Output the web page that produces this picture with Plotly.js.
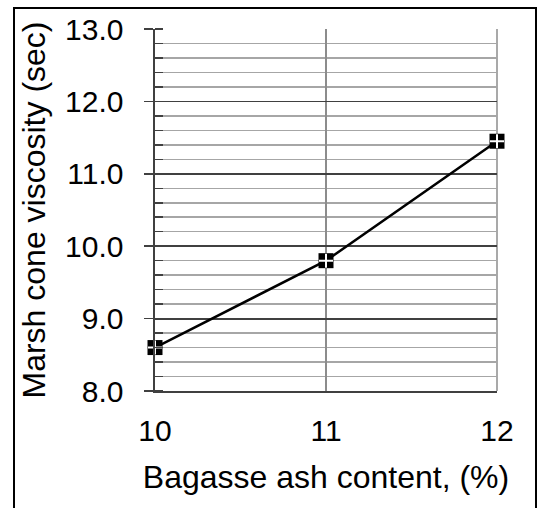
<!DOCTYPE html>
<html>
<head>
<meta charset="utf-8">
<script src="https://cdn.plot.ly/plotly-3.0.1.min.js"></script>
<style>html,body{margin:0;padding:0;background:#fff;}#chart{width:538px;height:508px;}</style>
</head>
<body>
<div id="chart"></div>
<script>
const ashContent = [10, 11, 12];
const viscosity = [8.6, 9.8, 11.45];
const xTicks = [10, 11, 12];
const yTicks = [8, 9, 10, 11, 12, 13];
const yTickText = ['8.0', '9.0', '10.0', '11.0', '12.0', '13.0'];
const xTitle = 'Bagasse ash content, (%)';
const yTitle = 'Marsh cone viscosity (sec)';

const L = 155, R = 497, T = 29, B = 391, W = 538, H = 508;
const px = v => (v - L) / (R - L);
const py = v => (B - v) / (B - T);

const traces = [
  {x: ashContent, y: viscosity, type: 'scatter', mode: 'lines+markers',
   line: {color: '#000', width: 2.5}, cliponaxis: false,
   marker: {symbol: 'square', size: 15, color: '#000'},
   hoverinfo: 'skip', showlegend: false},
  {x: ashContent, y: viscosity, type: 'scatter', mode: 'markers', cliponaxis: false,
   marker: {symbol: 'cross-thin-open', size: 10, color: '#fff', line: {color: '#fff', width: 2}},
   hoverinfo: 'skip', showlegend: false}
];

const layout = {
  width: W, height: H,
  margin: {l: L, r: W - R, t: T, b: H - B, pad: 0},
  paper_bgcolor: '#fff', plot_bgcolor: '#fff',
  font: {family: 'Liberation Sans, Arial, sans-serif', color: '#000'},
  showlegend: false,
  xaxis: {
    range: [10, 12], tickvals: xTicks, ticktext: xTicks.map(String),
    showgrid: true, gridcolor: '#8c8c8c', gridwidth: 1.5,
    showline: true, linecolor: '#404040', linewidth: 2,
    ticks: '', zeroline: false,
    tickfont: {size: 30, color: '#000'},
    ticklabelstandoff: 12,
    title: {text: xTitle, font: {size: 32, color: '#000'}, standoff: 20}
  },
  yaxis: {
    range: [8, 13], tickvals: yTicks, ticktext: yTickText,
    showgrid: true, gridcolor: '#404040', gridwidth: 1.8,
    showline: true, linecolor: '#404040', linewidth: 2.5,
    ticks: 'outside', ticklen: 9, tickwidth: 1.5, tickcolor: '#404040',
    zeroline: false,
    tickfont: {size: 30, color: '#000'},
    ticklabelstandoff: 14,
    minor: {dtick: 0.2, showgrid: true, gridcolor: '#a6a6a6', gridwidth: 1.5,
            ticks: 'inside', ticklen: 8, tickcolor: '#404040', tickwidth: 1.5},
    title: {text: yTitle, font: {size: 32, color: '#000'}, standoff: 10}
  },
  shapes: [
    {type: 'line', xref: 'paper', yref: 'paper', x0: 1, x1: 1, y0: 0, y1: 1,
     line: {color: '#8c8c8c', width: 1.5}, layer: 'below'},
    {type: 'rect', xref: 'paper', yref: 'paper',
     x0: px(14), x1: px(536), y0: py(520), y1: py(8),
     line: {color: '#000', width: 2}, fillcolor: 'rgba(0,0,0,0)'}
  ]
};

Plotly.newPlot('chart', traces, layout, {displayModeBar: false, staticPlot: true});
</script>
</body>
</html>
